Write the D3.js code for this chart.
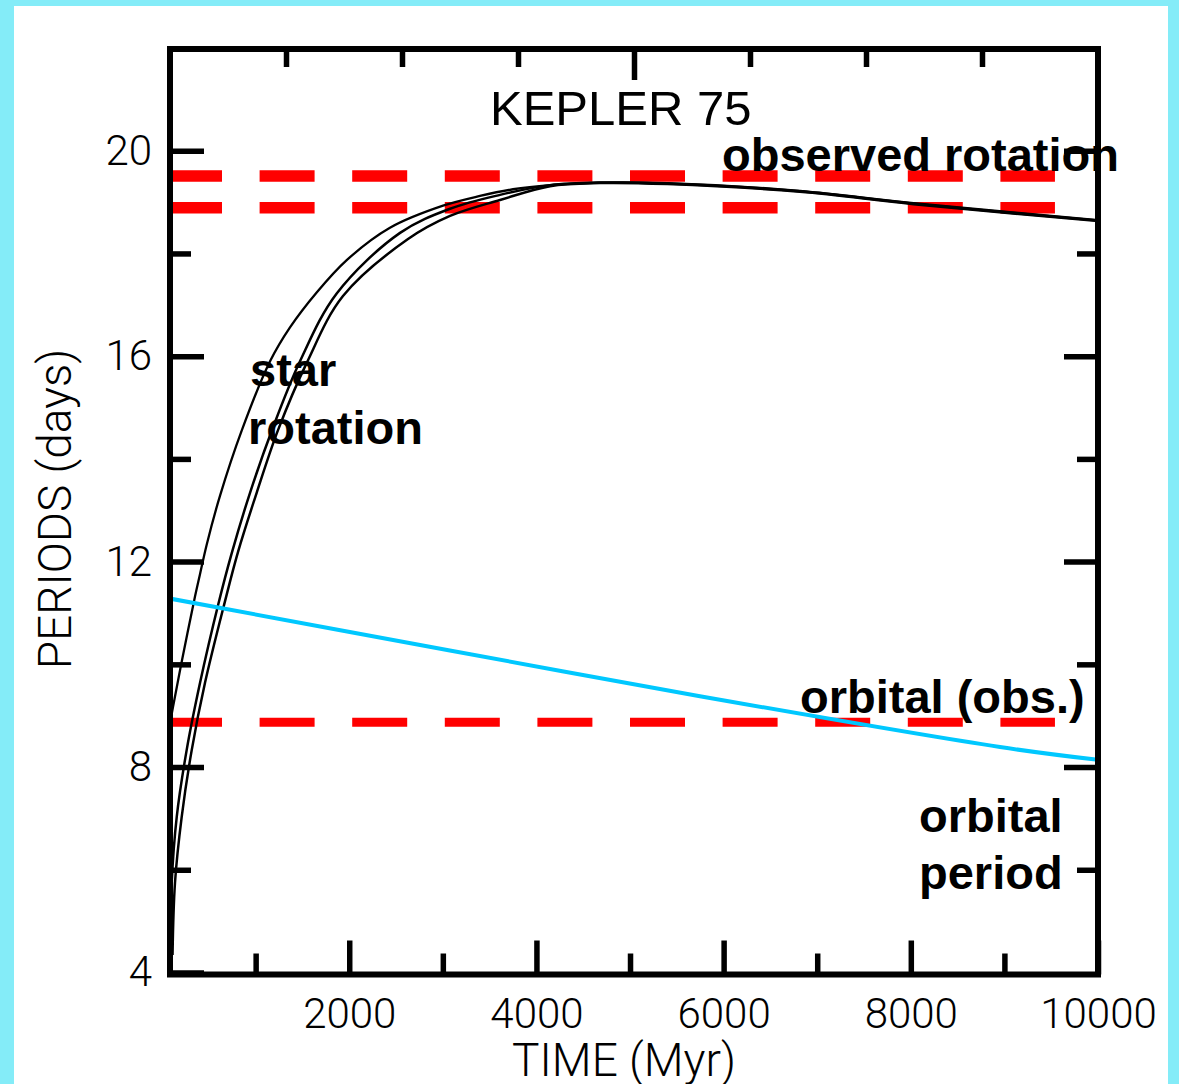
<!DOCTYPE html>
<html>
<head>
<meta charset="utf-8">
<script src="https://cdn.jsdelivr.net/npm/d3@7"></script>
<style>
  html, body { margin: 0; padding: 0; background: #ffffff; }
  svg { display: block; }
</style>
</head>
<body>
<div id="chart"></div>
<script>
// ---------------- DATA ----------------
// Star rotation period tracks (time in Myr, period in days)
const starTrackA_time = [85, 117, 210, 352, 406, 477, 619, 851, 1154, 1367, 1652, 1973, 2435, 3002, 3397, 3750, 4145, 4679, 5400, 6815, 8030, 10000];
const starTrackA_period = [8.85, 9.17, 10.05, 11.32, 11.76, 12.33, 13.28, 14.55, 15.90, 16.56, 17.24, 17.87, 18.50, 18.93, 19.12, 19.25, 19.33, 19.38, 19.37, 19.22, 18.98, 18.65];

const starTrackB_time = [90, 103, 157, 263, 406, 601, 744, 940, 1185, 1474, 1866, 2543, 3077, 3611, 4145, 4679, 5400, 6815, 8030, 10000];
const starTrackB_period = [4.34, 5.74, 7.03, 8.33, 9.64, 11.17, 12.16, 13.34, 14.61, 15.90, 17.22, 18.40, 18.87, 19.14, 19.33, 19.38, 19.36, 19.21, 18.97, 18.64];

const starTrackC_time = [112, 138, 210, 317, 459, 673, 812, 1011, 1239, 1546, 1933, 2628, 3077, 3611, 4145, 4679, 5400, 6815, 8030, 10000];
const starTrackC_period = [4.34, 5.74, 7.03, 8.33, 9.64, 11.23, 12.19, 13.34, 14.56, 15.87, 17.17, 18.28, 18.73, 19.04, 19.31, 19.37, 19.35, 19.20, 18.96, 18.63];

// Orbital period of the planet
const orbit_time = [85, 3075, 5747, 8953, 10000];
const orbit_period = [11.28, 10.27, 9.38, 8.39, 8.14];

// Observed values (dashed red lines)
const observedRotationBounds = [19.51, 18.89];
const observedOrbital = [8.87];
const observedSpan = [85, 9540];

// Axis ticks
const xMajorTicks = [2000, 4000, 6000, 8000, 10000];
const xMinorTicks = [1000, 3000, 5000, 7000, 9000];
const yMajorTicks = [4, 8, 12, 16, 20];
const yMinorTicks = [6, 10, 14, 18];
const topMajorTicks = [5000];
const topMinorTicks = [1250, 2500, 3750, 6250, 7500, 8750];

// Labels
const titleText = "KEPLER 75";
const xTitle = "TIME (Myr)";
const yTitle = "PERIODS (days)";

// ---------------- LAYOUT ----------------
const W = 1179, H = 1084;
const L = 170, R = 1098, T = 49, B = 974.5;

const svg = d3.select("#chart").append("svg")
  .attr("width", W).attr("height", H);

// cyan frame + white panel
svg.append("rect").attr("x", 0).attr("y", 0).attr("width", W).attr("height", H).attr("fill", "#84ecf8");
svg.append("rect").attr("x", 14).attr("y", 6).attr("width", 1168 - 14).attr("height", H - 6).attr("fill", "#ffffff");

const x = d3.scaleLinear().domain([85, 10000]).range([L, R]);
const xTop = d3.scaleLinear().domain([0, 10000]).range([L, R]);
const y = d3.scaleLinear().domain([4, 22]).range([972.5, 48]);

// clip
svg.append("clipPath").attr("id", "plotclip")
  .append("rect").attr("x", L).attr("y", T).attr("width", R - L).attr("height", B - T);

const plot = svg.append("g").attr("clip-path", "url(#plotclip)");

// red dashed observed lines
const dashed = [
  ...observedRotationBounds.map(v => ({ v, w: 11.5 })),
  ...observedOrbital.map(v => ({ v, w: 9 }))
];
plot.selectAll("line.obs").data(dashed).enter().append("line")
  .attr("class", "obs")
  .attr("x1", x(observedSpan[0]) - 3).attr("x2", x(observedSpan[1]))
  .attr("y1", d => y(d.v)).attr("y2", d => y(d.v))
  .attr("stroke", "#ff0000").attr("stroke-width", d => d.w)
  .attr("stroke-dasharray", "55,37.6");

// star tracks
const line = d3.line().x(d => x(d[0])).y(d => y(d[1])).curve(d3.curveCatmullRom.alpha(0.5));
const tracks = [
  { t: starTrackA_time, p: starTrackA_period, w: 2.3 },
  { t: starTrackB_time, p: starTrackB_period, w: 2.5 },
  { t: starTrackC_time, p: starTrackC_period, w: 2.5 }
];
tracks.forEach(tr => {
  plot.append("path")
    .datum(tr.t.map((t, i) => [t, tr.p[i]]))
    .attr("d", line)
    .attr("fill", "none")
    .attr("stroke", "#000000")
    .attr("stroke-width", tr.w);
});

// orbital period
plot.append("path")
  .datum(orbit_time.map((t, i) => [t, orbit_period[i]]))
  .attr("d", line)
  .attr("fill", "none")
  .attr("stroke", "#00c8ff")
  .attr("stroke-width", 4);

// ---------------- AXES ----------------
const MAJ = 34, MIN = 21, TW = 5.5;
const tickFont = "Roboto, 'Open Sans', 'DejaVu Sans', sans-serif";

function styleAxis(g, labels) {
  g.select(".domain").remove();
  g.selectAll(".tick line").attr("stroke", "#000").attr("stroke-width", TW);
  g.attr("font-family", tickFont).attr("font-size", 42).attr("font-weight", 300);
  g.selectAll(".tick text").attr("fill", "#000");
  if (!labels) g.selectAll(".tick text").remove();
}

// bottom
svg.append("g").attr("transform", `translate(0,${B})`)
  .call(d3.axisBottom(x).tickValues(xMajorTicks).tickSizeInner(-MAJ).tickSizeOuter(0).tickPadding(23.5).tickFormat(d3.format("d")))
  .call(g => styleAxis(g, true));
svg.append("g").attr("transform", `translate(0,${B})`)
  .call(d3.axisBottom(x).tickValues(xMinorTicks).tickSizeInner(-MIN).tickSizeOuter(0))
  .call(g => styleAxis(g, false));
// top
svg.append("g").attr("transform", `translate(0,${T})`)
  .call(d3.axisTop(xTop).tickValues(topMajorTicks).tickSizeInner(-(MAJ - 3)).tickSizeOuter(0))
  .call(g => styleAxis(g, false));
svg.append("g").attr("transform", `translate(0,${T})`)
  .call(d3.axisTop(xTop).tickValues(topMinorTicks).tickSizeInner(-(MIN - 3)).tickSizeOuter(0))
  .call(g => styleAxis(g, false));
// left
svg.append("g").attr("transform", `translate(${L},0)`)
  .call(d3.axisLeft(y).tickValues(yMajorTicks).tickSizeInner(-MAJ).tickSizeOuter(0).tickPadding(18).tickFormat(d3.format("d")))
  .call(g => styleAxis(g, true));
svg.append("g").attr("transform", `translate(${L},0)`)
  .call(d3.axisLeft(y).tickValues(yMinorTicks).tickSizeInner(-MIN).tickSizeOuter(0))
  .call(g => styleAxis(g, false));
// right
svg.append("g").attr("transform", `translate(${R},0)`)
  .call(d3.axisRight(y).tickValues(yMajorTicks.filter(v => v > 4)).tickSizeInner(-MAJ).tickSizeOuter(0))
  .call(g => styleAxis(g, false));
svg.append("g").attr("transform", `translate(${R},0)`)
  .call(d3.axisRight(y).tickValues(yMinorTicks).tickSizeInner(-MIN).tickSizeOuter(0))
  .call(g => styleAxis(g, false));

// frame
svg.append("rect").attr("x", L).attr("y", T).attr("width", R - L).attr("height", B - T)
  .attr("fill", "none").attr("stroke", "#000").attr("stroke-width", 6);

// axis titles
svg.append("text").attr("x", 624).attr("y", 1076).attr("text-anchor", "middle")
  .attr("font-family", tickFont).attr("font-weight", 300).attr("font-size", 46)
  .text(xTitle);
svg.append("text").attr("transform", "translate(71,509) rotate(-90)").attr("text-anchor", "middle")
  .attr("font-family", tickFont).attr("font-weight", 300).attr("font-size", 46)
  .text(yTitle);

// annotations
const boldFont = "'Liberation Sans', Arial, Helvetica, sans-serif";
svg.append("text").attr("x", 490).attr("y", 125)
  .attr("font-family", boldFont).attr("font-size", 49).text(titleText);

const notes = [
  { text: "observed rotation", x: 722, y: 171 },
  { text: "star", x: 250, y: 386 },
  { text: "rotation", x: 248, y: 444 },
  { text: "orbital (obs.)", x: 800, y: 713 },
  { text: "orbital", x: 919, y: 832 },
  { text: "period", x: 919, y: 889 }
];
svg.selectAll("text.note").data(notes).enter().append("text")
  .attr("class", "note")
  .attr("x", d => d.x).attr("y", d => d.y)
  .attr("font-family", boldFont).attr("font-weight", "bold").attr("font-size", 47)
  .attr("fill", "#000")
  .text(d => d.text);
</script>
</body>
</html>
